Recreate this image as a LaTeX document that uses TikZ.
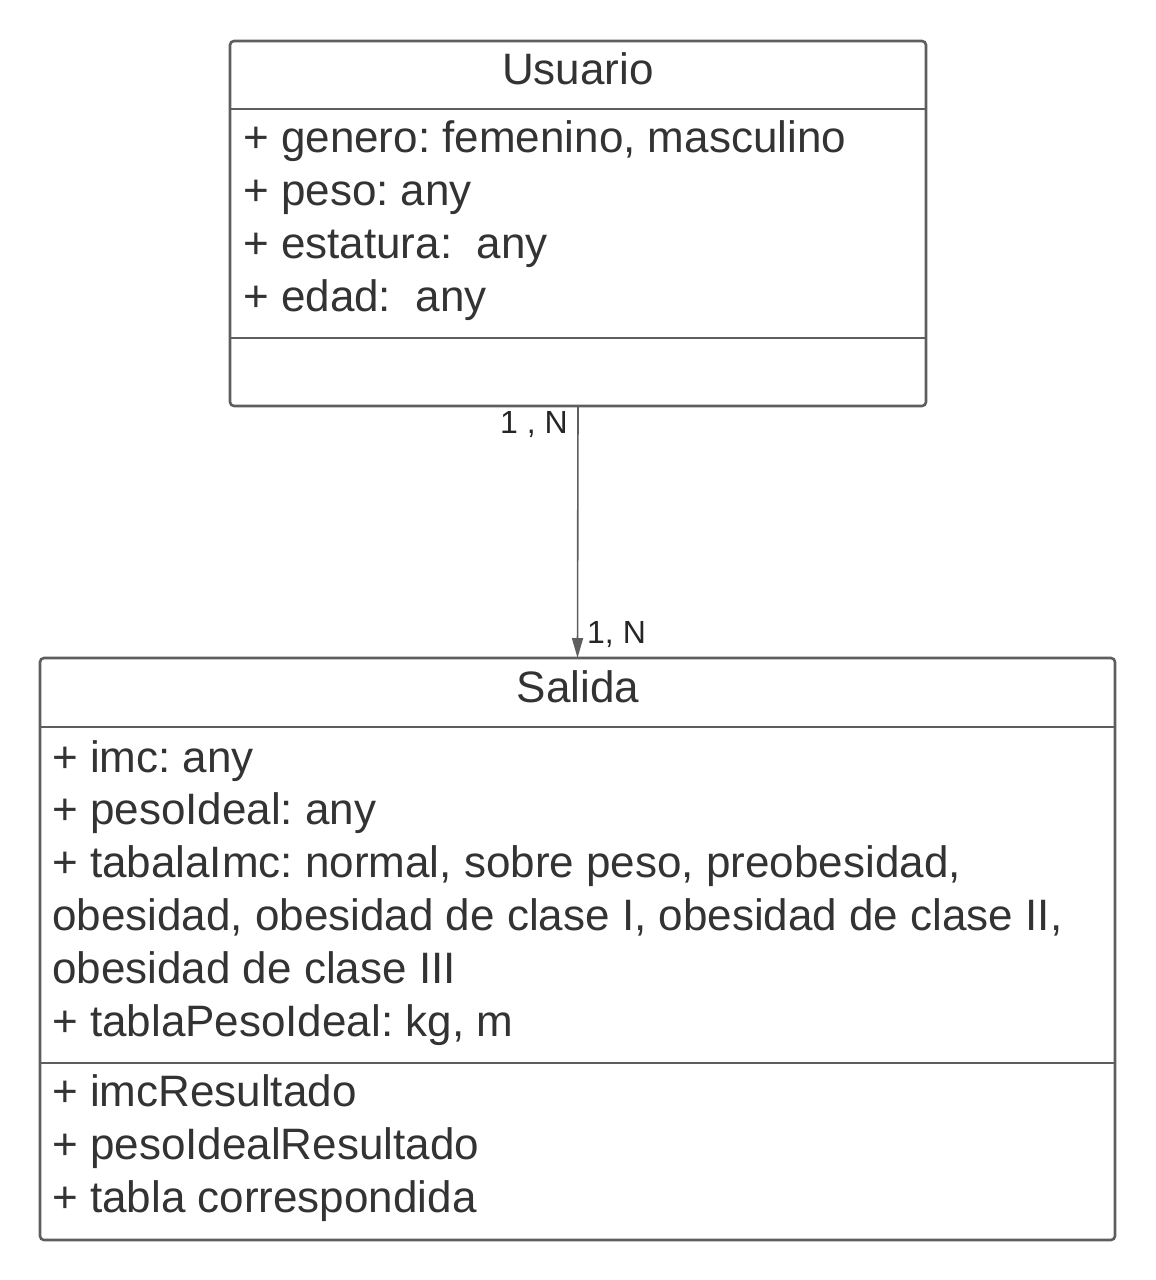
\documentclass[tikz,border=0pt]{standalone}
\usepackage{fontspec}
\setmainfont{Liberation Sans}
\usetikzlibrary{arrows.meta}
\definecolor{txt}{HTML}{333333}
\definecolor{brd}{HTML}{5E5E5E}
\frenchspacing
\begin{document}
\begin{tikzpicture}[x=1pt,y=-1pt,
  cls/.style={draw=brd, line width=2.6pt, rounded corners=4pt, inner sep=0pt, outer sep=0pt},
  attr/.style={anchor=base west, inner sep=0pt, text=txt, font=\fontsize{44}{53}\selectfont\frenchspacing},
  ttl/.style={anchor=base, inner sep=0pt, text=txt, font=\fontsize{44}{53}\selectfont},
  mult/.style={inner sep=0pt, text=black!85, font=\fontsize{32}{38}\selectfont},
  div/.style={draw=brd, line width=2.6pt},
  conn/.style={draw=brd, line width=1.6pt, -{Triangle[length=20pt,width=11pt]}}]
\useasboundingbox (0,0) rectangle (1156,1280);
% Usuario
\node[cls, minimum width=696pt, minimum height=365pt] (usuario) at (578,223.5) {};
\coordinate (ud1) at (0,109);
\coordinate (ud2) at (0,338);
\draw[div] (usuario.west |- ud1) -- (usuario.east |- ud1);
\draw[div] (usuario.west |- ud2) -- (usuario.east |- ud2);
\node[ttl] (utitle) at (578,84) {Usuario};
\node[attr] (ua1) at (243,152) {+ genero: femenino, masculino};
\node[attr] (ua2) at (243,205) {+ peso: any};
\node[attr] (ua3) at (243,258) {+ estatura:\ \ any};
\node[attr] (ua4) at (243,311) {+ edad:\ \ any};
% Salida
\node[cls, minimum width=1075pt, minimum height=582pt] (salida) at (577.5,949) {};
\coordinate (sd1) at (0,727);
\coordinate (sd2) at (0,1063);
\draw[div] (salida.west |- sd1) -- (salida.east |- sd1);
\draw[div] (salida.west |- sd2) -- (salida.east |- sd2);
\node[ttl] (stitle) at (578,702) {Salida};
\node[attr] (sa1) at (52,772) {+ imc: any};
\node[attr] (sa2) at (52,824) {+ pesoIdeal: any};
\node[attr] (sa3) at (52,877) {+ tabalaImc: normal, sobre peso, preobesidad,};
\node[attr] (sa4) at (52,930) {obesidad, obesidad de clase I, obesidad de clase II,};
\node[attr] (sa5) at (52,983) {obesidad de clase III};
\node[attr] (sa6) at (52,1036) {+ tablaPesoIdeal: kg, m};
\node[attr] (sm1) at (52,1106) {+ imcResultado};
\node[attr] (sm2) at (52,1159) {+ pesoIdealResultado};
\node[attr] (sm3) at (52,1212) {+ tabla correspondida};
% connector
\draw[conn] (usuario.south) -- (salida.north);
\node[mult, anchor=base east] (m1) at (568,433) {1 , N};
\node[mult, anchor=base west] (m2) at (587,643) {1, N};
\end{tikzpicture}
\end{document}
